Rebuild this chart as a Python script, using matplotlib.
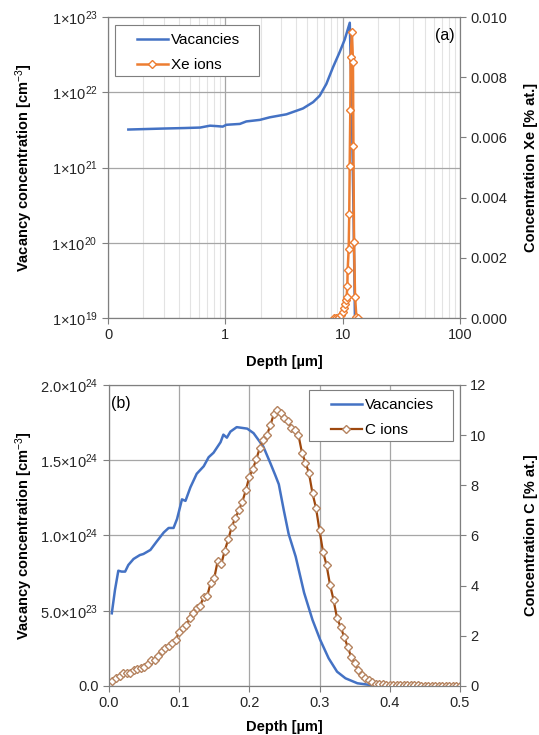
import math
import matplotlib
matplotlib.use("Agg")
import matplotlib.pyplot as plt
from matplotlib.patches import Rectangle
from matplotlib.ticker import FixedLocator, FuncFormatter, LogLocator, NullFormatter

plt.rcParams['font.family'] = ['Liberation Sans', 'DejaVu Sans']
plt.rcParams['mathtext.fontset'] = 'custom'
plt.rcParams['mathtext.rm'] = 'Liberation Sans'
plt.rcParams['mathtext.it'] = 'Liberation Sans:italic'
plt.rcParams['mathtext.bf'] = 'Liberation Sans:bold'

# (a) Xe ions, log depth
vac_a_depth = [0.149, 0.3, 0.45, 0.61, 0.74, 0.85, 0.95, 1.02, 1.33, 1.51, 1.97, 2.39,
               3.32, 4.59, 5.6, 6.37, 7.26, 8.27, 9.41, 10.4, 11.5, 12.0, 12.4, 12.8]
vac_a = [3.2e21, 3.3e21, 3.35e21, 3.4e21, 3.6e21, 3.55e21, 3.5e21, 3.7e21, 3.8e21, 4.1e21,
         4.3e21, 4.65e21, 5.1e21, 6.1e21, 7.4e21, 9.0e21, 1.29e22, 2.15e22, 3.4e22, 5.0e22,
         8.4e22, 5e21, 2e20, 5e18]
xe_depth = [8.5, 8.83, 9.31, 9.75, 10.07, 10.33, 10.47, 10.61, 10.82, 10.96, 11.03, 11.25,
            11.38, 11.48, 11.62, 11.70, 12.0, 12.24, 12.35, 12.5, 12.75, 13.1, 13.5]
xe_conc = [0, 0.00001, 0.00004, 0.0001, 0.00021, 0.00032, 0.00047, 0.0006, 0.00071, 0.00106,
           0.0016, 0.00228, 0.00344, 0.00506, 0.00691, 0.00866, 0.00951, 0.00852, 0.00571,
           0.00251, 0.00071, 0.00002, 0]

# (b) C ions, linear depth
vac_b_depth = [0.004, 0.0086, 0.0133, 0.018, 0.023, 0.0276, 0.035, 0.044, 0.049, 0.059, 0.068,
               0.078, 0.085, 0.092, 0.097, 0.104, 0.109, 0.116, 0.125, 0.135, 0.142, 0.149,
               0.159, 0.163, 0.168, 0.173, 0.182, 0.197, 0.206, 0.22, 0.23, 0.237, 0.242,
               0.249, 0.256, 0.266, 0.278, 0.29, 0.301, 0.313, 0.325, 0.337, 0.354, 0.373, 0.382]
vac_b = [4.83e23, 6.4e23, 7.66e23, 7.6e23, 7.6e23, 8.04e23, 8.44e23, 8.7e23, 8.77e23, 9.04e23,
         9.6e23, 1.02e24, 1.05e24, 1.05e24, 1.11e24, 1.24e24, 1.23e24, 1.32e24, 1.41e24,
         1.46e24, 1.52e24, 1.55e24, 1.62e24, 1.67e24, 1.65e24, 1.69e24, 1.72e24, 1.71e24,
         1.68e24, 1.59e24, 1.48e24, 1.40e24, 1.34e24, 1.17e24, 1.01e24, 8.6e23, 6.2e23,
         4.39e23, 3.06e23, 1.84e23, 9.5e22, 5.1e22, 1.8e22, 6e21, 0]
c_depth = [0.005, 0.010, 0.015, 0.020, 0.025, 0.030, 0.035, 0.040, 0.045, 0.050,
           0.055, 0.060, 0.065, 0.070, 0.075, 0.080, 0.085, 0.090, 0.095, 0.100,
           0.105, 0.110, 0.115, 0.120, 0.125, 0.130, 0.135, 0.140, 0.145, 0.150,
           0.155, 0.160, 0.165, 0.170, 0.175, 0.180, 0.185, 0.190, 0.195, 0.200,
           0.205, 0.210, 0.215, 0.220, 0.225, 0.230, 0.235, 0.240, 0.245, 0.250,
           0.255, 0.260, 0.265, 0.270, 0.275, 0.280, 0.285, 0.290, 0.295, 0.300,
           0.305, 0.310, 0.315, 0.320, 0.325, 0.330, 0.335, 0.340, 0.345, 0.350,
           0.355, 0.360, 0.365, 0.370, 0.375, 0.380, 0.385, 0.390, 0.395, 0.400,
           0.405, 0.410, 0.415, 0.420, 0.425, 0.430, 0.435, 0.440, 0.445, 0.450,
           0.455, 0.460, 0.465, 0.470, 0.475, 0.480, 0.485, 0.490, 0.495, 0.500]
c_conc = [0.18, 0.30, 0.40, 0.50, 0.53, 0.52, 0.62, 0.66, 0.70, 0.76,
          0.88, 1.05, 1.02, 1.20, 1.40, 1.50, 1.60, 1.70, 1.85, 2.15,
          2.30, 2.43, 2.70, 2.90, 3.10, 3.20, 3.56, 3.60, 4.12, 4.30,
          5.00, 4.86, 5.40, 5.85, 6.35, 6.70, 7.00, 7.35, 7.80, 8.35,
          8.65, 9.05, 9.50, 9.80, 10.00, 10.40, 10.85, 11.02, 10.90, 10.70,
          10.56, 10.30, 10.20, 10.00, 9.30, 8.90, 8.48, 7.68, 7.10, 6.20,
          5.35, 4.82, 4.03, 3.43, 2.70, 2.36, 1.97, 1.57, 1.17, 0.90,
          0.64, 0.44, 0.33, 0.24, 0.14, 0.09, 0.07, 0.06, 0.05, 0.04,
          0.04, 0.03, 0.03, 0.03, 0.02, 0.02, 0.02, 0.02, 0.01, 0.01,
          0.01, 0.01, 0.01, 0.01, 0.01, 0.01, 0.00, 0.00, 0.00, 0.00]

BLUE = '#4472C4'
ORANGE = '#ED7D31'
BROWN = '#9E480E'
GRID = '#a6a6a6'
SPINE = '#7f7f7f'
W, H = 539, 735


def sci(v, digits):
    if v == 0:
        return '0.0'
    exp = math.floor(math.log10(v) + 1e-9)
    mant = v / 10 ** exp
    return f'{mant:.{digits}f}' + '×10$^{' + str(exp) + '}$'


def style(ax):
    for s in ax.spines.values():
        s.set_color(SPINE)
    ax.tick_params(colors=SPINE, labelcolor='#262626', labelsize=10.5, length=4)


def make_legend(ax, handles, labels, box, handle_x, row1_y):
    # Excel-like legend: frame drawn as a patch, entries placed inside it
    x0, y0, x1, y1 = box
    ax.add_patch(Rectangle((x0 / W, 1 - y1 / H), (x1 - x0) / W, (y1 - y0) / H,
                           transform=ax.figure.transFigure, facecolor='white',
                           edgecolor=SPINE, lw=0.8, zorder=4.5, clip_on=False))
    leg = ax.legend(handles, labels, loc='upper left',
                    bbox_to_anchor=(handle_x / W, 1 - (row1_y - 5) / H),
                    bbox_transform=ax.figure.transFigure, borderaxespad=0, borderpad=0,
                    frameon=False, fontsize=11, handlelength=2.0, labelspacing=0.72,
                    handletextpad=0.2)
    leg.set_zorder(5)
    return leg


fig = plt.figure(figsize=(5.39, 7.35), dpi=100)

# ---- panel (a)
ax1 = fig.add_axes([0.2004, 0.5673, 0.653, 0.4095])
ax1.plot(vac_a_depth, vac_a, color=BLUE, lw=1.8, label='Vacancies')
ax1.set_xscale('log')
ax1.set_yscale('log')
ax1.set_xlim(0.1, 100)
ax1.set_ylim(1e19, 1e23)
ax1.xaxis.set_major_locator(FixedLocator([0.1, 1, 10, 100]))
ax1.xaxis.set_major_formatter(FuncFormatter(lambda v, p: f'{v:.0f}'))
ax1.xaxis.set_minor_locator(LogLocator(subs=range(2, 10)))
ax1.xaxis.set_minor_formatter(NullFormatter())
ax1.yaxis.set_major_locator(FixedLocator([1e19, 1e20, 1e21, 1e22, 1e23]))
ax1.yaxis.set_major_formatter(FuncFormatter(lambda v, p: '1×10$^{%d}$' % round(math.log10(v))))
ax1.yaxis.set_minor_locator(FixedLocator([]))
ax1.grid(True, which='major', color=GRID, lw=0.9)
ax1.grid(True, which='minor', axis='x', color='#e3e3e3', lw=0.8)
ax1.tick_params(which='minor', length=0)
style(ax1)
ax1.set_xlabel('Depth [µm]', fontweight='bold', fontsize=10.5, labelpad=9)
ax1.set_ylabel('Vacancy concentration [cm$^{-3}$]', fontweight='bold', fontsize=10.5)
ax1.yaxis.set_label_coords(-0.207, 0.5)

ax2 = ax1.twinx()
ax2.plot(xe_depth, xe_conc, color=ORANGE, lw=1.8, marker='D', ms=4.5, mfc='white',
         mec=ORANGE, mew=1, label='Xe ions')
ax2.set_ylim(0, 0.010)
ax2.set_yticks([0, 0.002, 0.004, 0.006, 0.008, 0.010])
ax2.yaxis.set_major_formatter(FuncFormatter(lambda v, p: f'{v:.3f}'))
style(ax2)
ax2.set_ylabel('Concentration Xe [% at.]', fontweight='bold', fontsize=10.5)
ax2.yaxis.set_label_coords(1.183, 0.5)
h1, l1 = ax1.get_legend_handles_labels()
h2, l2 = ax2.get_legend_handles_labels()
make_legend(ax2, h1 + h2, l1 + l2, (115, 25, 259, 76), 137, 38)
ax2.text(0.985, 0.965, '(a)', transform=ax2.transAxes, ha='right', va='top', fontsize=11.5)

# ---- panel (b)
ax3 = fig.add_axes([0.2022, 0.0667, 0.651, 0.4095])
ax3.plot(vac_b_depth, vac_b, color=BLUE, lw=1.8, label='Vacancies')
ax3.set_xlim(0, 0.5)
ax3.set_ylim(0, 2e24)
ax3.set_xticks([0, 0.1, 0.2, 0.3, 0.4, 0.5])
ax3.xaxis.set_major_formatter(FuncFormatter(lambda v, p: f'{v:.1f}'))
ax3.set_yticks([0, 5e23, 1e24, 1.5e24, 2e24])
ax3.yaxis.set_major_formatter(FuncFormatter(lambda v, p: sci(v, 1)))
ax3.grid(True, color=GRID, lw=0.9)
style(ax3)
ax3.set_xlabel('Depth [µm]', fontweight='bold', fontsize=10.5, labelpad=7)
ax3.set_ylabel('Vacancy concentration [cm$^{-3}$]', fontweight='bold', fontsize=10.5)
ax3.yaxis.set_label_coords(-0.211, 0.5)

ax4 = ax3.twinx()
ax4.plot(c_depth, c_conc, color=BROWN, lw=1.6, marker='D', ms=4.5, mfc='white',
         mec='#b5835f', mew=1, label='C ions')
ax4.set_ylim(0, 12)
ax4.set_yticks([0, 2, 4, 6, 8, 10, 12])
style(ax4)
ax4.set_ylabel('Concentration C [% at.]', fontweight='bold', fontsize=10.5)
ax4.yaxis.set_label_coords(1.183, 0.5)
h3, l3 = ax3.get_legend_handles_labels()
h4, l4 = ax4.get_legend_handles_labels()
make_legend(ax4, h3 + h4, l3 + l4, (309, 390, 453, 441), 331, 403)
ax4.text(0.005, 0.965, '(b)', transform=ax4.transAxes, ha='left', va='top', fontsize=11.5)

fig.savefig('out.png', dpi=100)
